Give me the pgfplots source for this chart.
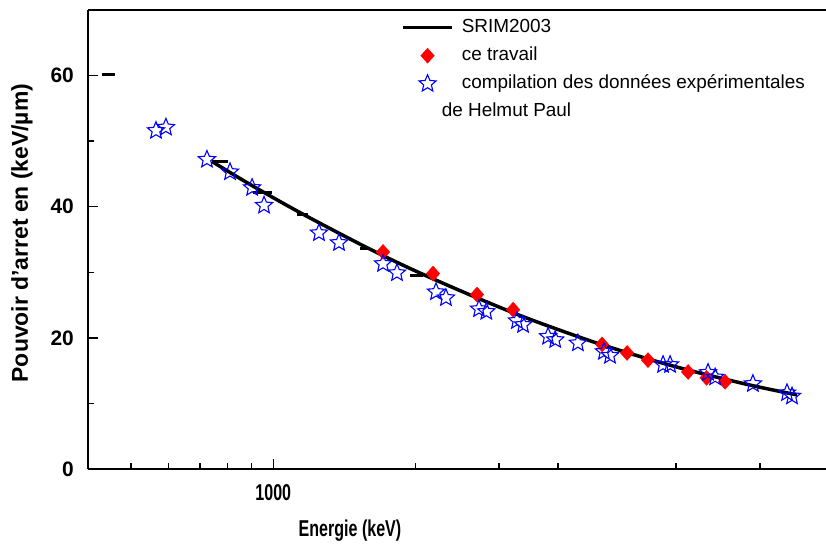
\documentclass[border=0pt]{standalone}
\usepackage{pgfplots}
\pgfplotsset{compat=1.18}
\usepackage{fontspec}
\setmainfont{Liberation Sans}
\newfontfamily\narrowfont{Liberation Sans}[FakeStretch=0.7]
\pgfdeclareplotmark{pstar}{%
  \pgfpathmoveto{\pgfpointpolar{90}{\pgfplotmarksize}}%
  \pgfpathlineto{\pgfpointpolar{126}{0.45\pgfplotmarksize}}%
  \pgfpathlineto{\pgfpointpolar{162}{\pgfplotmarksize}}%
  \pgfpathlineto{\pgfpointpolar{198}{0.45\pgfplotmarksize}}%
  \pgfpathlineto{\pgfpointpolar{234}{\pgfplotmarksize}}%
  \pgfpathlineto{\pgfpointpolar{270}{0.45\pgfplotmarksize}}%
  \pgfpathlineto{\pgfpointpolar{306}{\pgfplotmarksize}}%
  \pgfpathlineto{\pgfpointpolar{342}{0.45\pgfplotmarksize}}%
  \pgfpathlineto{\pgfpointpolar{18}{\pgfplotmarksize}}%
  \pgfpathlineto{\pgfpointpolar{54}{0.45\pgfplotmarksize}}%
  \pgfpathclose\pgfusepathqstroke}
\begin{document}
\begin{tikzpicture}
\useasboundingbox (0,0) rectangle (826bp,544bp);
\begin{axis}[
  at={(88bp,75bp)}, anchor=south west, scale only axis,
  width=738bp, height=459bp,
  xmode=log, xmin=405.8, xmax=14740, ymin=0, ymax=70,
  axis x line*=box, axis y line*=left,
  xtick pos=bottom, ytick pos=left,
  axis line style={line width=1.5bp},
  tick align=inside,
  major tick length=10bp, minor tick length=6bp,
  every tick/.style={line width=1.5bp, black},
  xtick={1000}, xticklabels={1000},
  minor xtick={500,600,700,800,900,2000,3000,4000,7100,10700},
  ytick={0,20,40,60}, minor ytick={10,30,50},
  /pgf/number format/assume math mode=true,
  xticklabel style={font=\narrowfont\bfseries\fontsize{23}{23}\selectfont, anchor=base, inner sep=0pt, yshift=-31bp},
  yticklabel style={font=\bfseries\fontsize{21}{21}\selectfont, anchor=east, inner sep=0pt, xshift=-14bp},
  xlabel={Energie (keV)},
  xlabel style={font=\narrowfont\bfseries\fontsize{23}{23}\selectfont, at={(axis description cs:0.355,-0.148)}, anchor=base, inner sep=0pt},
  ylabel={Pouvoir d'arret en (keV/µm)},
  ylabel style={font=\bfseries\fontsize{23}{23}\selectfont, at={(axis description cs:-0.0894,0.514)}, anchor=center, inner sep=0pt},
  legend image code/.code={\draw[mark repeat=2,mark phase=2,#1] plot coordinates {(0bp,0bp) (24.5bp,0bp) (49bp,0bp)};},
  legend style={draw=none, fill=none, at={(axis description cs:0.4245,0.981)}, anchor=north west,
    inner sep=0pt, outer sep=0pt, row sep=10bp, column sep=8bp,
    font=\fontsize{19}{19}\selectfont,
    nodes={inner sep=0pt, text height=14bp, text depth=4bp}},
  legend cell align=left,
  unbounded coords=jump,
]
\addplot[black, line width=3.5bp, smooth, no marks] coordinates {
 (742,46.9) (893,43.4) (1139,39.1) (1525,34.3) (1853,31.3) (2176,29.0) (2696,26.1)
 (3439,23.0) (4742,19.4) (6257,16.7) (7716,14.9) (10181,12.8) (12800,11.3)
};
\addlegendentry{SRIM2003}
\addplot[only marks, mark=diamond*, mark size=7.5bp, color=red, fill=red, mark options={xscale=1.2}] coordinates {
 (1706,33.1) (2176,29.8) (2696,26.6) (3214,24.3) (4955,19.0) (5597,17.7)
 (6196,16.6) (7534,14.8) (8240,13.9) (9017,13.3)
};
\addlegendentry{ce travail}
\addplot[only marks, mark=pstar, mark size=9bp, color=blue, mark options={solid, line width=1.1bp}] coordinates {
 (565,51.6) (593,52.1) (724,47.2) (810,45.3) (902,42.9) (956,40.2) (1249,36.0)
 (1377,34.5) (1706,31.3) (1826,29.9) (2208,27.0) (2317,26.1) (2722,24.4)
 (2820,24.0) (3274,22.6) (3373,22.0) (3810,20.2) (3945,19.7) (4405,19.2)
 (5000,17.9) (5150,17.3) (6668,15.9) (6900,15.9) (8300,14.7) (8592,14.0)
 (10325,13.0) (12190,11.6) (12490,11.1)
};
\addlegendentry{compilation des données expérimentales}
\addlegendimage{empty legend}
\addlegendentry{\hspace{-20bp}de Helmut Paul}
\addplot[black, line width=3bp, no marks, forget plot] table[row sep=\\] {
 x y\\
 435 60.2\\ 463 60.2\\ nan nan\\
 742 46.9\\ 802 46.9\\ nan nan\\
 906 42.1\\ 994 42.1\\ nan nan\\
 1122 38.8\\ 1184 38.8\\ nan nan\\
 1525 33.6\\ 1601 33.6\\ nan nan\\
 1945 29.5\\ 2072 29.5\\
};
\end{axis}
\end{tikzpicture}
\end{document}
